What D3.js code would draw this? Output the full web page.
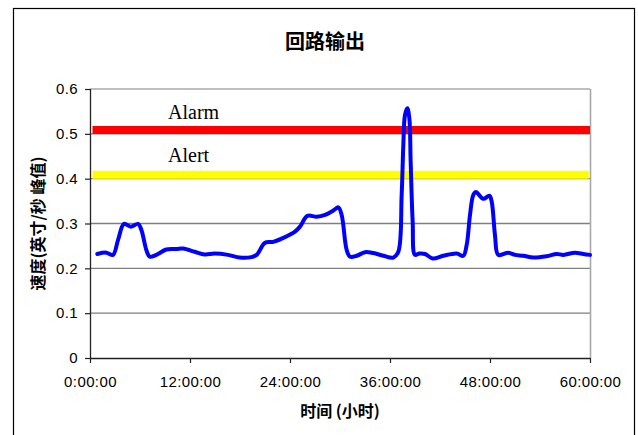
<!DOCTYPE html>
<html><head><meta charset="utf-8">
<script src="https://cdn.jsdelivr.net/npm/d3@7"></script>
<style>body{margin:0;background:#fff;}svg{display:block;}</style>
</head><body>
<svg id="c" width="638" height="435"></svg>
<script>
const title = "回路输出";
const yLabel = "速度(英寸/秒 峰值)";
const xLabel = "时间 (小时)";
const xTickHours = [0, 12, 24, 36, 48, 60];
const xTickLabels = ["0:00:00", "12:00:00", "24:00:00", "36:00:00", "48:00:00", "60:00:00"];
const yTicks = [0, 0.1, 0.2, 0.3, 0.4, 0.5, 0.6];
const thresholdNames = ["Alarm", "Alert"];
const thresholdLevels = [0.5085, 0.4085];
const thresholdColors = ["#ff0000", "#ffff00"];
const hours = [0.88,1.96,2.76,3.36,4.08,4.88,5.76,6.16,6.76,7.16,7.96,9.16,10.36,11.16,12.56,13.76,14.96,16.56,17.96,19.36,20.0,21.0,22.0,23.2,24.6,25.2,26.08,27.2,28.2,29.2,29.8,30.2,30.8,31.2,32.0,33.0,34.0,35.2,36.4,37.0,37.4,37.6,37.8,38.08,38.32,38.48,38.72,39.0,39.52,40.2,41.12,42.4,44.0,44.8,45.2,45.6,46.0,46.32,47.2,47.92,48.2,48.6,49.0,50.2,51.0,52.0,53.2,54.8,56.0,56.8,58.2,59.2,60.0];
const speed = [0.232,0.235,0.230,0.263,0.299,0.293,0.299,0.286,0.241,0.226,0.230,0.242,0.243,0.244,0.237,0.231,0.233,0.230,0.224,0.225,0.230,0.257,0.259,0.268,0.282,0.293,0.317,0.315,0.319,0.329,0.336,0.319,0.241,0.226,0.228,0.236,0.234,0.228,0.224,0.237,0.364,0.475,0.542,0.557,0.535,0.438,0.304,0.230,0.233,0.232,0.222,0.228,0.233,0.228,0.252,0.319,0.364,0.370,0.355,0.362,0.349,0.274,0.230,0.235,0.230,0.228,0.224,0.227,0.232,0.230,0.235,0.232,0.230];

const svg = d3.select("#c");
const L = 90, R = 590, T = 89, B = 358;
const x = d3.scaleLinear().domain([0, 60]).range([L, R]);
const y = d3.scaleLinear().domain([0, 0.6]).range([B, T]);

// outer frame
svg.append("rect").attr("x", 13.5).attr("y", 8.5).attr("width", 621).attr("height", 440)
  .attr("fill", "none").attr("stroke", "#000").attr("stroke-width", 1.2);

// title
svg.append("text").attr("x", 325).attr("y", 49).attr("text-anchor", "middle")
  .attr("font-family", "'Noto Sans CJK SC', sans-serif").attr("font-weight", "bold")
  .attr("font-size", 20).text(title);

// gridlines
svg.append("g").selectAll("line").data(yTicks.filter(d => d > 0)).join("line")
  .attr("x1", L).attr("x2", R).attr("y1", d => y(d)).attr("y2", d => y(d))
  .attr("stroke", d => d === 0.6 ? "#aaaaaa" : "#7f7f7f").attr("stroke-width", 1.3);
// right plot border
svg.append("line").attr("x1", R + 0.5).attr("x2", R + 0.5).attr("y1", T).attr("y2", B)
  .attr("stroke", "#a8a8a8").attr("stroke-width", 1.6);

// thresholds
svg.append("g").selectAll("line").data(thresholdLevels).join("line")
  .attr("x1", x(0.3)).attr("x2", (d, i) => i === 0 ? x(60) : x(59.85))
  .attr("y1", d => y(d)).attr("y2", d => y(d))
  .attr("stroke", (d, i) => thresholdColors[i]).attr("stroke-width", 8);
svg.append("g").selectAll("text").data(thresholdNames).join("text")
  .attr("x", 168).attr("y", (d, i) => y(thresholdLevels[i]) - (i === 0 ? 11 : 13))
  .attr("font-family", "'Liberation Serif', 'Times New Roman', serif").attr("font-size", 20)
  .text(d => d);

// axes
const yAxis = d3.axisLeft(y).tickValues(yTicks).tickSize(5).tickPadding(7)
  .tickFormat(d => d === 0 ? "0" : d3.format(".1f")(d));
const gy = svg.append("g").attr("transform", `translate(${L},0)`).call(yAxis);
const xAxis = d3.axisBottom(x).tickValues(xTickHours).tickSize(5).tickPadding(13)
  .tickFormat((d, i) => xTickLabels[i]);
const gx = svg.append("g").attr("transform", `translate(0,${B})`).call(xAxis);
[gx, gy].forEach(g => {
  g.select(".domain").attr("stroke", "#222").attr("stroke-width", 1.3);
  g.selectAll(".tick line").attr("stroke", "#222").attr("stroke-width", 1.2);
  g.selectAll("text").attr("font-family", "'Liberation Sans', Arial, sans-serif")
    .attr("font-size", 15).attr("letter-spacing", 0.4).attr("fill", "#000");
});
gx.select(".domain").attr("d", `M${L},0.5H${R}`);
gy.select(".domain").attr("d", `M0.5,${T}V${B}`);

// data line
const pts = hours.map((h, i) => [h, speed[i]]);
svg.append("path").datum(pts)
  .attr("d", d3.line().x(d => x(d[0])).y(d => y(d[1])).curve(d3.curveCatmullRom.alpha(0.5)))
  .attr("fill", "none").attr("stroke", "#0000ff").attr("stroke-width", 4)
  .attr("stroke-linejoin", "round").attr("stroke-linecap", "round");

// axis titles
svg.append("text").attr("x", 340).attr("y", 417).attr("text-anchor", "middle")
  .attr("font-family", "'Noto Sans CJK SC', sans-serif").attr("font-weight", "bold")
  .attr("font-size", 16).text(xLabel);
svg.append("text").attr("transform", `translate(44,${(T + B) / 2}) rotate(-90)`)
  .attr("text-anchor", "middle")
  .attr("font-family", "'Noto Sans CJK SC', sans-serif").attr("font-weight", "bold")
  .attr("font-size", 16).text(yLabel);
</script>
</body></html>
